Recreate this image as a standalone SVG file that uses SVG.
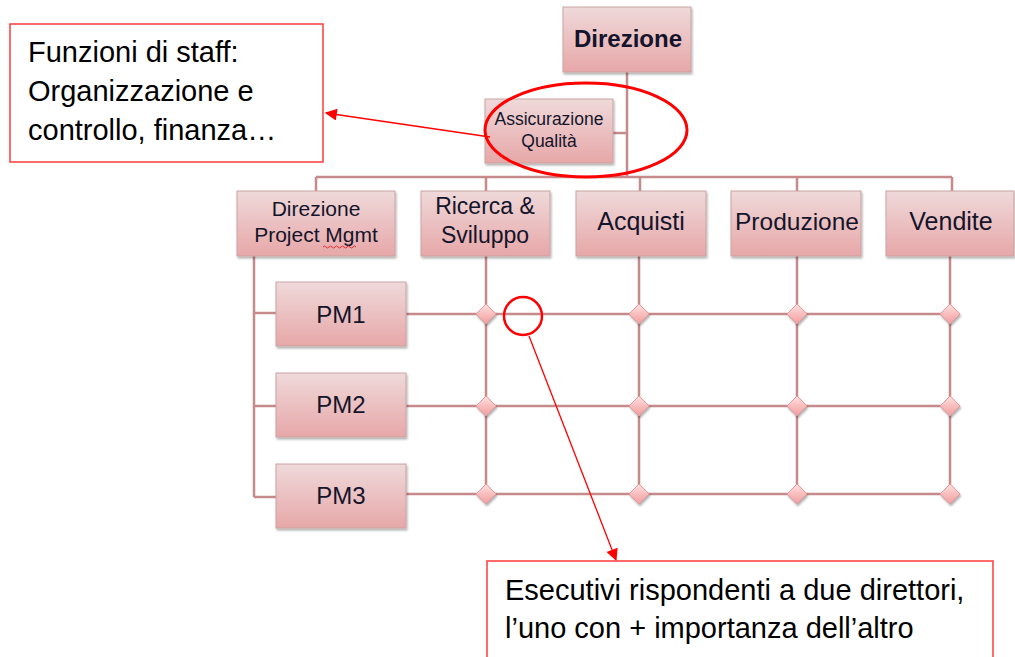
<svg xmlns="http://www.w3.org/2000/svg" width="1015" height="657" viewBox="0 0 1015 657">
<defs>
  <linearGradient id="boxg" x1="0" y1="0" x2="0" y2="1">
    <stop offset="0" stop-color="#efd9da"/>
    <stop offset="1" stop-color="#e7a7a8"/>
  </linearGradient>
  <linearGradient id="diag" x1="0" y1="0" x2="0" y2="1">
    <stop offset="0" stop-color="#ffe0e0"/>
    <stop offset="1" stop-color="#f29c9d"/>
  </linearGradient>
  <filter id="sh" x="-10%" y="-10%" width="130%" height="140%">
    <feDropShadow dx="1" dy="2" stdDeviation="1.2" flood-color="#000" flood-opacity="0.3"/>
  </filter>
  <marker id="arr" viewBox="0 0 10 10" refX="9" refY="5" markerWidth="15" markerHeight="12" markerUnits="userSpaceOnUse" orient="auto">
    <path d="M0,0 L10,5 L0,10 z" fill="#ff0000"/>
  </marker>
  <g id="dia"><path d="M0,-10 L10,0 L0,10 L-10,0 z" fill="url(#diag)" stroke="#e39a9b" stroke-width="1" filter="url(#sh)"/></g>
</defs>
<style>
  .box { fill: url(#boxg); stroke: #c9a3a3; stroke-width: 1; filter: url(#sh); }
  .lbl { font-family: "Liberation Sans", Arial, sans-serif; fill: #14142a; text-anchor: middle; }
  .con { stroke: #c68a8b; stroke-width: 2.5; fill: none; }
  .ann { fill: #ffffff; stroke: #ff3b3b; stroke-width: 1.5; }
  .antx { font-family: "Liberation Sans", Arial, sans-serif; font-size: 29px; fill: #000; }
  .red { stroke: #ff0000; fill: none; }
</style>

<g id="connectors">
  <path class="con" d="M627,72 V177 M613,133 H627 M316,177 H952 M316,177 V191 M486,177 V191 M640,177 V191 M797,177 V191 M952,177 V191"/>
  <path class="con" d="M254,256 V497 M254,313 H276 M254,406 H276 M254,497 H276"/>
  <path class="con" d="M486,256 V494 M639,256 V494 M797,256 V494 M950,256 V494"/>
  <path class="con" d="M406,314 H950 M406,406 H950 M406,494 H950"/>
  <g id="diamonds">
    <use href="#dia" x="486" y="314"/><use href="#dia" x="639" y="314"/><use href="#dia" x="797" y="314"/><use href="#dia" x="950" y="314"/>
    <use href="#dia" x="486" y="406"/><use href="#dia" x="639" y="406"/><use href="#dia" x="797" y="406"/><use href="#dia" x="950" y="406"/>
    <use href="#dia" x="486" y="494"/><use href="#dia" x="639" y="494"/><use href="#dia" x="797" y="494"/><use href="#dia" x="950" y="494"/>
  </g>
</g>

<g id="n-direzione">
  <rect class="box" x="563" y="7" width="128" height="65"/>
  <text class="lbl" x="628" y="47" font-size="24" font-weight="bold">Direzione</text>
</g>
<g id="n-assicurazione">
  <rect class="box" x="485" y="99" width="128" height="64"/>
  <text class="lbl" x="549" y="125" font-size="17.5">Assicurazione</text>
  <text class="lbl" x="549" y="147" font-size="17.5">Qualità</text>
</g>
<g id="n-dirpm">
  <rect class="box" x="237" y="191" width="158" height="65"/>
  <text class="lbl" x="316" y="216" font-size="21">Direzione</text>
  <text class="lbl" x="316" y="242" font-size="21">Project Mgmt</text>
  <path d="M323,247 q1.5,-2 3,0 t3,0 t3,0 t3,0 t3,0 t3,0 t3,0 t3,0 t3,0 t3,0 t3,0" fill="none" stroke="#e03030" stroke-width="1"/>
</g>
<g id="n-ricerca">
  <rect class="box" x="421" y="191" width="129" height="65"/>
  <text class="lbl" x="485" y="214" font-size="23">Ricerca &amp;</text>
  <text class="lbl" x="485" y="243" font-size="23">Sviluppo</text>
</g>
<g id="n-acquisti">
  <rect class="box" x="576" y="191" width="130" height="65"/>
  <text class="lbl" x="641" y="230" font-size="25">Acquisti</text>
</g>
<g id="n-produzione">
  <rect class="box" x="731" y="191" width="130" height="65"/>
  <text class="lbl" x="797" y="230" font-size="24.5">Produzione</text>
</g>
<g id="n-vendite">
  <rect class="box" x="886" y="191" width="128" height="65"/>
  <text class="lbl" x="951" y="230" font-size="25">Vendite</text>
</g>
<g id="n-pm1">
  <rect class="box" x="276" y="282" width="130" height="64"/>
  <text class="lbl" x="341" y="323" font-size="24">PM1</text>
</g>
<g id="n-pm2">
  <rect class="box" x="276" y="373" width="130" height="64"/>
  <text class="lbl" x="341" y="413" font-size="24">PM2</text>
</g>
<g id="n-pm3">
  <rect class="box" x="276" y="464" width="130" height="64"/>
  <text class="lbl" x="341" y="504" font-size="24">PM3</text>
</g>

<g id="annotations">
  <ellipse class="red" cx="586" cy="130" rx="101" ry="47" stroke-width="3"/>
  <circle class="red" cx="523" cy="316" r="19" stroke-width="2.5"/>
  <line class="red" x1="490" y1="137" x2="326" y2="113" stroke-width="1.3" marker-end="url(#arr)"/>
  <line class="red" x1="529" y1="336" x2="616" y2="560" stroke-width="1.3" marker-end="url(#arr)"/>
</g>

<g id="n-staff">
  <rect class="ann" x="10" y="24" width="313" height="138"/>
  <text class="antx" x="28" y="62">Funzioni di staff:</text>
  <text class="antx" x="28" y="101">Organizzazione e</text>
  <text class="antx" x="28" y="140">controllo, finanza…</text>
</g>
<g id="n-esecutivi">
  <rect class="ann" x="487" y="561" width="506" height="110"/>
  <text class="antx" x="505" y="600">Esecutivi rispondenti a due direttori,</text>
  <text class="antx" x="505" y="638">l’uno con + importanza dell’altro</text>
</g>
</svg>
